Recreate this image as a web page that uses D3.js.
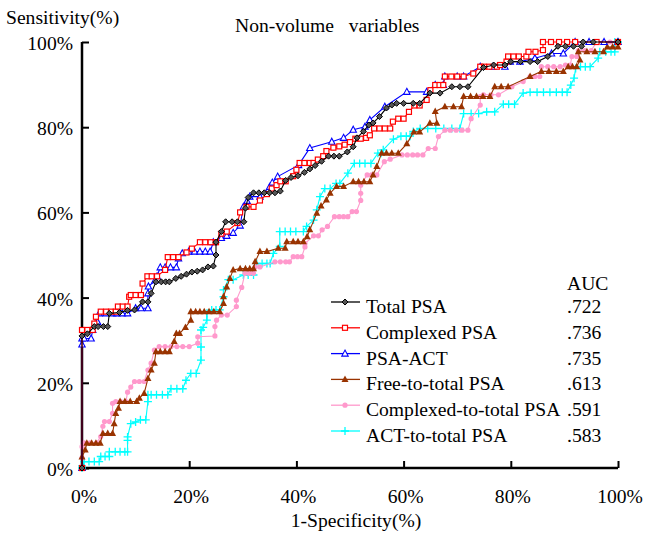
<!DOCTYPE html>
<html lang="en">
  <head>
    <meta charset="UTF-8" />
    <title>ROC non-volume variables</title>
    <style>
      body {
        margin: 0;
        background: #fff;
      }
      svg text {
        font-family: "Liberation Serif", "DejaVu Serif", serif;
        font-size: 19.6px;
        fill: #000;
      }
    </style>
  </head>
  <body>
    <svg width="645" height="534" id="chart"></svg>

    <script src="https://d3js.org/d3.v7.min.js"></script>
    <script>
      // [1-specificity %, sensitivity %]
      var totalPSA = [
        [0,0],[0,31],[1,31.5],[2.3,33.2],[3,33.2],[4,33.2],[4.8,33.2],[5.1,36.3],[7,36.5],[8.5,37],[9.8,37.1],
        [11.3,39],[12.3,39],[12.9,41],[13.8,43.7],[14.8,43.7],[15.6,43.7],[16.3,43.7],[17.5,44.5],[18.5,45],
        [19.5,45.5],[20.5,46],[21.5,46.2],[22.5,46.5],[23.5,47.2],[24.5,47.4],[25,50],[25,53],
        [26,55.5],[26.8,57.8],[28,57.8],[29,57.8],[30.2,57.8],[30.5,61],[31,63.5],[32,64.6],[33,64.6],
        [34,64.6],[35,64.6],[36,64.6],[37,65],[38,67.5],[39,68.2],[40.3,68.6],[41.5,69.4],[42.5,70.2],
        [43.5,71],[44.7,72],[46,73.2],[47,73.2],[48,73.2],[49.5,74.2],[50.6,75.4],[51.3,77.5],
        [52.5,79],[53.5,80.5],[54.3,81],[55.5,82.5],[56.8,84.5],[57.8,85.2],[58.7,85.6],[60,85.6],
        [61.8,85.6],[63,85.6],[64.9,88],[66.8,88],[69,89.5],[70.5,89.5],[72,89.5],
        [74.9,94],[76.8,94.6],[78.9,94.6],[80,95.4],[81.8,95.4],[83.6,95.4],[85,95.4],[86.9,96.6],
        [88.8,99],[90.2,99],[91.7,99],[93.2,99],[93.5,100],[95.4,100],[100,100]
      ];
      var complexedPSA = [
        [0,0],[0,32.4],[1,32.4],[2,32.4],[2.3,33.9],[2.6,35.5],[3.5,36.7],[4.5,36.7],[5.4,36.7],[6.3,36.7],
        [6.7,37.9],[7.6,37.9],[8.5,37.9],[8.8,40.2],[9.1,40.6],[10,40.6],[11,40.6],[11.3,43.3],[12.2,45],
        [13,45],[14,45],[15.5,46.5],[16,49.5],
        [17,49.5],[18,49.5],[19.5,50.6],[20.5,51.5],[22,53],[23,53],[24,53],[25,53],[26,55],[27,55.5],
        [29,57.5],[29.5,60],[30.7,61.3],[32,61.3],[33.2,62.8],[34.5,64.3],[35.4,65.6],[36.3,66.4],
        [37,67.3],[38,67.3],[39.4,68.5],[40,70],[40.6,71.6],[41.5,71.6],[42.5,71.6],[43.2,71.6],
        [44,72.4],[45,73.2],[45.6,74.4],[46.9,75.2],[48,75.5],[49,75.9],[50,76.5],[51,77.3],[52,77.3],
        [53,77.5],[53.7,78.1],[54.5,79.7],[55.5,79.7],[56.5,79.7],[57.5,79.7],[58,81.3],[59,82],
        [60,82],[61,83.6],[62,85.1],[63,85.1],[64.3,86.4],[65,88.7],[65.9,89.9],[66.7,89.9],[67.4,89.9],
        [67.7,91.9],[68.9,91.9],[70,91.9],[71.2,91.9],[73,92.6],[74.3,94.2],[75,94.2],[76,94.2],
        [77.4,94.2],[78,94.6],[79.2,95.4],[79.5,96.6],[80.5,96.6],[81.5,96.6],[82.9,96.6],[83.3,97.7],
        [84.6,97.7],[86,98.1],[86,100],[87.5,100],[89,100],[90.5,100],[92,100],[96,100],[100,100]
      ];
      var psaACT = [
        [0,0],[0,29],[0,30.4],[0.4,30.4],[1.7,30.4],[2,32.4],[2.9,34.3],[3.2,36.3],[4.5,36.3],
        [5.7,36.3],[6.5,36.3],[7.5,36.3],[8.5,36.3],[10,37.5],[11,37.5],[12.3,37.5],[12.3,41],
        [12.4,42.6],[13.6,44],[14,45],[14.6,47.1],[15.5,47.1],[16.5,47.1],[17.6,47.1],[18,49.2],[18.7,50.4],
        [19.9,50.8],[21,50.8],[22,50.8],[23,50.8],[23.9,50.8],[24.5,53],[26,54],[27,54.5],[28.2,55.2],
        [29.5,56.9],[30.1,61.3],[30.8,62.7],[31.3,63.7],[33.2,63.7],[35,66],[35.5,67],[36.5,68.4],
        [40.4,71.1],[42.5,75.1],[46.6,76.6],[48.8,77.5],[50.6,79.4],[52.8,80.1],[53.7,81.7],
        [56.5,84.8],[60.6,88.3],[64.3,88.3],[65.9,89.9],[67.4,89.9],[67.7,91.9],[70,91.9],[71.2,91.9],
        [74.3,94.2],[76.7,94.2],[78.9,94.2],[79.9,95.4],[81.7,95.4],[84.5,96.2],[87.6,97.3],
        [89.8,97.3],[92,100],[94.6,100],[97.4,100],[100,100]
      ];
      var freeToTotal = [
        [0,0],[0,2.6],[0.6,4.2],[0.9,5.8],[1.8,5.8],[2.6,5.8],[3.4,5.8],[3.9,8.1],[4.8,8.1],
        [5.7,8.1],[6,10.4],[6.3,12.8],[6.8,14],[7.1,15.6],[8,15.6],[9,15.6],[10.2,15.6],[10.7,16.4],[11.6,17.5],
        [12.3,21],[12.9,23],[13.5,24.6],[13.8,27.3],[14.6,27.3],[15.5,27.3],[16.3,27.3],[17.2,29.7],
        [17.6,31.6],[18.2,31.6],[19.3,33],[20.3,34.7],[20.3,36.7],[21.2,36.7],[22,36.7],[22.8,36.7],
        [23.7,36.7],[24.6,36.7],[25.7,36.7],[26.4,38.6],[26.4,40.2],[27,42.5],[27.6,44.5],
        [28.2,46.5],[29.5,46.8],[30.5,46.8],[31.3,46.8],[32,46.8],[32.3,48.4],[33.2,50.8],[34.5,50.8],
        [36.6,51.6],[37.9,51.6],[38.2,53.1],[39.4,53.1],[40.3,53.1],[41.3,53.1],[42,54.3],[42.5,55.9],
        [43.8,59.8],[44.6,61.5],[45.6,62.9],[46.3,64.5],[47.5,66.1],[48.8,66.1],[50.6,67.2],
        [51.6,67.2],[52.6,67.2],[53.7,67.2],[54.3,68.8],[55,70.8],[55.9,73.9],[56.8,73.9],[57.8,73.9],
        [59,73.9],[60.6,76.1],[61.9,78.9],[63,78.9],[64.9,80.9],[66.2,80.9],[65.9,83.7],[67.7,84.8],
        [69.3,84.8],[70.8,84.8],[71.2,87.2],[72.5,87.2],[73.6,87.2],[74.8,87.2],[76.1,87.2],[77,89.5],
        [78.2,89.5],[79.5,89.5],[83.6,91.9],[85.7,93.1],[87.1,93.1],[88.5,93.1],
        [89.8,93.1],[90.7,94.2],[91.5,94.2],[92.3,94.2],[92.9,95.8],[92.6,97.7],[94.2,97.7],[95.7,97.7],
        [97.3,97.7],[98,98.8],[99,98.8],[100,98.8],[100,100]
      ];
      var complexedToTotal = [
        [0,0],[0,2.4],[0,5],[0.4,5.9],[1.5,5.9],[2.7,5.9],[3.5,7.4],[3.9,9.8],[4.2,10.9],[5.1,10.9],
        [5.7,12.8],[5.7,15.2],[6.3,15.6],[7.2,15.6],[8.2,15.6],[8.5,17.8],[9.1,19],[9.8,20.3],[10.7,20.3],
        [11.6,20.3],[12.3,23],[12.9,24.6],[13.5,27.7],[14.4,28.5],[15.5,28.5],[16.6,28.5],[17.7,28.5],
        [18.8,28.5],[20,28.5],[21.6,29.3],[21.6,30.8],[24.8,31],[24.8,33.2],[25.1,34.7],
        [26,35.9],[27.1,35.9],[28.8,37.9],[28.8,39.4],[29.8,42.4],[30.4,45.7],[31.2,45.7],[32,45.7],
        [32.3,47.2],[33.2,47.2],[36,48.4],[37,48.4],[38,48.4],[38.7,48.4],[39.4,49.6],[40.2,49.6],
        [41,49.6],[41.6,51.9],[41.6,52.7],[43.2,54.5],[44.1,54.5],[44.8,55.9],[45.8,56.7],[47.1,59],
        [48,59],[48.8,59],[49.6,59],[50.4,60.2],[51.2,60.2],[52,62.8],[52,64.5],[52,66.4],[53.2,68.8],
        [54,68.8],[55,68.8],[56.4,71.9],[57.5,72.5],[59.7,73.5],[60.7,73.5],[61.7,73.5],[62.6,73.5],
        [63.6,73.5],[64.6,75],[65.9,75],[66.5,77.8],[67.7,79.3],[68.7,79.3],[69.8,79.3],[70.9,79.3],
        [72,79.3],[72.6,82],[74.3,85.2],[74.3,87.2],[74.9,87.6],[76.3,87.6],[77.7,87.6],[80.2,89.5],
        [82.3,90.7],[83.6,91.9],[84.5,91.9],[85.4,91.9],[85.7,94.2],[86.9,94.2],[88,94.2],
        [89.2,94.2],[90.2,94.6],[91.1,94.6],[91.4,96.6],[92.3,96.6],[92.6,98],[93.8,98],[95,98],
        [96,100],[97.3,100],[98.5,100],[100,100]
      ];
      var actToTotal = [
        [0,0],[0,0.5],[0.4,1.5],[1.3,1.5],[2.3,1.5],[3.2,1.5],[3.5,2.7],[4.3,2.7],[5.1,2.7],[5.1,3.8],
        [6.2,3.8],[7.1,3.8],[8,3.8],[8.5,3.8],[8.5,6.5],[8.5,7.3],[9.1,10.4],[10,10.8],[10.9,11.3],
        [11.9,11.3],[12.3,15.6],[12.3,17.2],[12.9,17.2],[13.9,17.2],[15,17.2],[16,17.2],[16.6,18.6],
        [17.7,18.6],[18.8,18.6],[19.4,20.6],[20.3,22.2],[21.3,22.2],[22.2,25.3],[22.2,28.4],
        [22.2,32.4],[22.6,33],[23.3,34.7],[23.3,36.3],[24.2,37.1],[25,37.1],[25.7,37.1],[26.4,40.2],
        [26.4,41.8],[27.3,44.2],[28.2,44.2],[30.1,45.3],[31,45.3],[32,45.3],[32.6,48],[33.6,48],
        [34.5,48],[35.1,48],[35.7,50.4],[36.9,52],[36.9,55.5],[37.9,55.5],[38.9,55.5],[39.9,55.5],
        [41.3,55.5],[41.9,56.7],[43.2,58.2],[43.8,60.6],[44.4,63.7],[45.3,65.6],[46.3,65.6],
        [47.4,66.8],[48.1,66.8],[49.6,69.2],[50.8,71.5],[51.8,71.5],[52.8,71.5],[53.9,71.5],
        [55.2,73.9],[55.8,73.9],[56.2,74.7],[58.1,77.2],[59.5,77.9],[60.5,77.9],[61.2,77.9],[61.8,79],
        [63.1,79.7],[64.5,79.7],[66,79.7],[67.5,79.7],[69,79.7],[70.5,79.7],[71.2,83.2],[72.6,83.2],
        [74,83.2],[75.5,83.6],[77,83.6],[78.6,85.4],[79.6,85.4],[80.7,85.4],[82.3,88],[83.6,88.2],
        [84.9,88.2],[86.1,88.2],[87.3,88.2],[88.5,88.2],[89.6,88.2],[90.5,88.2],[91.2,89.9],[91.8,91.5],
        [92.1,93.8],[93,94.2],[93.9,94.2],[94.8,94.2],[96.3,96.2],[96.6,97.7],[97.7,97.7],[98.7,97.7],
        [99.4,97.7],[99.4,100],[100,100]
      ];

      var seriesNames = ["Total PSA", "Complexed PSA", "PSA-ACT", "Free-to-total PSA",
        "Complexed-to-total PSA", "ACT-to-total PSA"];
      var aucValues = [".722", ".736", ".735", ".613", ".591", ".583"];
      var tickValues = [0, 20, 40, 60, 80, 100];

      var series = [
        { name: seriesNames[0], auc: aucValues[0], data: totalPSA, color: "#000000", marker: "diamond" },
        { name: seriesNames[1], auc: aucValues[1], data: complexedPSA, color: "#ff0000", marker: "square" },
        { name: seriesNames[2], auc: aucValues[2], data: psaACT, color: "#0000ff", marker: "triangle" },
        { name: seriesNames[3], auc: aucValues[3], data: freeToTotal, color: "#993300", marker: "triFill" },
        { name: seriesNames[4], auc: aucValues[4], data: complexedToTotal, color: "#ff99cc", marker: "dot" },
        { name: seriesNames[5], auc: aucValues[5], data: actToTotal, color: "#00ffff", marker: "plus" }
      ];

      var x = d3.scaleLinear().domain([0, 100]).range([82, 618]);
      var y = d3.scaleLinear().domain([0, 100]).range([468, 42]);

      var svg = d3.select("#chart");

      // axes
      var xAxis = d3.axisTop(x).tickValues(tickValues).tickSize(7).tickFormat("");
      var yAxis = d3.axisRight(y).tickValues(tickValues).tickSize(7).tickFormat("");

      var gx = svg.append("g").attr("transform", "translate(0,468)").call(xAxis);
      var gy = svg.append("g").attr("transform", "translate(82,0)").call(yAxis);
      [gx, gy].forEach(function (g) {
        g.select(".domain").attr("stroke", "#000").attr("stroke-width", 2.5);
        g.selectAll(".tick line").attr("stroke", "#000").attr("stroke-width", 2);
      });
      gx.select(".domain").attr("d", "M82,0H618");
      gy.select(".domain").attr("d", "M0,468V42");

      svg.selectAll(".xlab")
        .data(tickValues)
        .join("text")
        .attr("class", "xlab")
        .attr("x", function (d) { return x(d) + 2; })
        .attr("y", 503)
        .attr("text-anchor", "middle")
        .text(function (d) { return d + "%"; });

      svg.selectAll(".ylab")
        .data(tickValues)
        .join("text")
        .attr("class", "ylab")
        .attr("x", 73)
        .attr("y", function (d) { return y(d) + 8; })
        .attr("text-anchor", "end")
        .text(function (d) { return d + "%"; });

      svg.append("text").attr("x", 6).attr("y", 24).text("Sensitivity(%)");
      svg.append("text").attr("x", 235).attr("y", 32).attr("xml:space", "preserve")
        .text("Non-volume   variables");
      svg.append("text").attr("x", 356).attr("y", 527).attr("text-anchor", "middle")
        .text("1-Specificity(%)");

      function drawMarker(g, type, color) {
        if (type === "diamond") {
          g.append("path").attr("d", "M0,-3L3,0L0,3L-3,0Z")
            .attr("fill", "#555").attr("stroke", color).attr("stroke-width", 1);
        } else if (type === "square") {
          g.append("rect").attr("x", -2.5).attr("y", -2.5).attr("width", 5).attr("height", 5)
            .attr("fill", "#fff").attr("stroke", color).attr("stroke-width", 1.2);
        } else if (type === "triangle") {
          g.append("path").attr("d", "M0,-3.5L3.2,2.5L-3.2,2.5Z")
            .attr("fill", "#fff").attr("stroke", color).attr("stroke-width", 1.1);
        } else if (type === "triFill") {
          g.append("path").attr("d", "M0,-4L3.5,2.5L-3.5,2.5Z").attr("fill", color);
        } else if (type === "dot") {
          g.append("circle").attr("r", 2.6).attr("fill", color);
        } else if (type === "plus") {
          g.append("path").attr("d", "M-4,0H4M0,-4V4")
            .attr("stroke", color).attr("stroke-width", 1.3);
        }
      }

      var line = d3.line()
        .x(function (d) { return x(d[0]); })
        .y(function (d) { return y(d[1]); });

      var plot = svg.append("g");
      series.slice().reverse().forEach(function (s) {
        var g = plot.append("g");
        g.append("path")
          .datum(s.data)
          .attr("d", line)
          .attr("fill", "none")
          .attr("stroke", s.color)
          .attr("stroke-width", 1.1);
        g.selectAll("g.pt")
          .data(s.data)
          .join("g")
          .attr("class", "pt")
          .attr("transform", function (d) { return "translate(" + x(d[0]) + "," + y(d[1]) + ")"; })
          .each(function () { drawMarker(d3.select(this), s.marker, s.color); });
      });

      // legend
      var legend = svg.append("g");
      legend.append("text").attr("x", 567).attr("y", 290).text("AUC");
      series.forEach(function (s, i) {
        var ly = 302 + i * 25.8;
        var row = legend.append("g");
        row.append("line").attr("x1", 331).attr("x2", 360).attr("y1", ly).attr("y2", ly)
          .attr("stroke", s.color).attr("stroke-width", 1.3);
        drawMarker(row.append("g").attr("transform", "translate(345," + ly + ")"), s.marker, s.color);
        row.append("text").attr("x", 366).attr("y", ly + 11).text(s.name);
        row.append("text").attr("x", 567).attr("y", ly + 11).text(s.auc);
      });
    </script>
  </body>
</html>
